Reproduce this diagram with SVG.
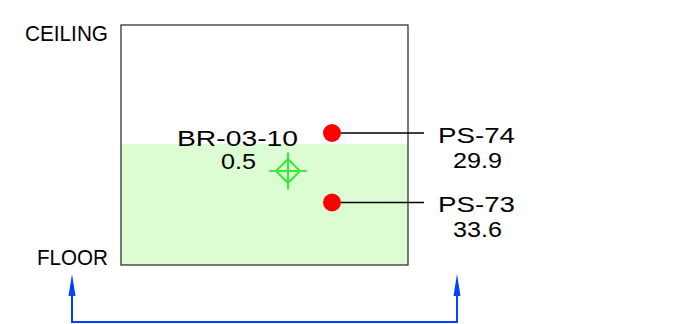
<svg xmlns="http://www.w3.org/2000/svg" width="691" height="324" viewBox="0 0 691 324">
<style>
text{font-family:"Liberation Sans",Arial,sans-serif;font-size:22px;fill:#000}
.lead{stroke:#000;stroke-width:1.5;fill:none}
.dot{fill:#ff0000}
.blue{stroke:#0044ff;stroke-width:2;fill:none}
.head{fill:#0044ff}
.cross{stroke:#33ee33;stroke-width:2;fill:none}
</style>
<g id="room">
<rect x="121" y="144" width="287" height="121" fill="#dcfcd4"/>
<rect x="121" y="25" width="287" height="240" fill="none" stroke="#333" stroke-width="1.3"/>
</g>
<g id="ceiling"><text x="108" y="41" text-anchor="end" textLength="83" lengthAdjust="spacingAndGlyphs">CEILING</text></g>
<g id="floor"><text x="108" y="265" text-anchor="end" textLength="71" lengthAdjust="spacingAndGlyphs">FLOOR</text></g>
<g id="BR-03-10">
<path class="cross" d="M276 171 L288 159 L300 171 L288 183 Z M269.5 171 H306.5 M288 152.5 V189.5"/>
<text x="177" y="146" textLength="121" lengthAdjust="spacingAndGlyphs">BR-03-10</text>
<text x="221" y="169" textLength="35" lengthAdjust="spacingAndGlyphs">0.5</text>
</g>
<g id="PS-74">
<circle class="dot" cx="332" cy="133" r="9"/>
<text x="438" y="143" textLength="77" lengthAdjust="spacingAndGlyphs">PS-74</text>
<text x="453" y="168" textLength="49" lengthAdjust="spacingAndGlyphs">29.9</text>
</g>
<g id="PS-73">
<circle class="dot" cx="332" cy="202.5" r="9"/>
<text x="438" y="212" textLength="77" lengthAdjust="spacingAndGlyphs">PS-73</text>
<text x="453" y="237" textLength="49" lengthAdjust="spacingAndGlyphs">33.6</text>
</g>
<g id="connectors">
<path class="lead" d="M341 133 H424"/>
<path class="lead" d="M341 202.5 H424"/>
<path class="blue" d="M72 294 V322 H457 V294"/>
<polygon class="head" points="72,274 75.5,296 68.5,296"/>
<polygon class="head" points="457,274 460.5,296 453.5,296"/>
</g>
</svg>
